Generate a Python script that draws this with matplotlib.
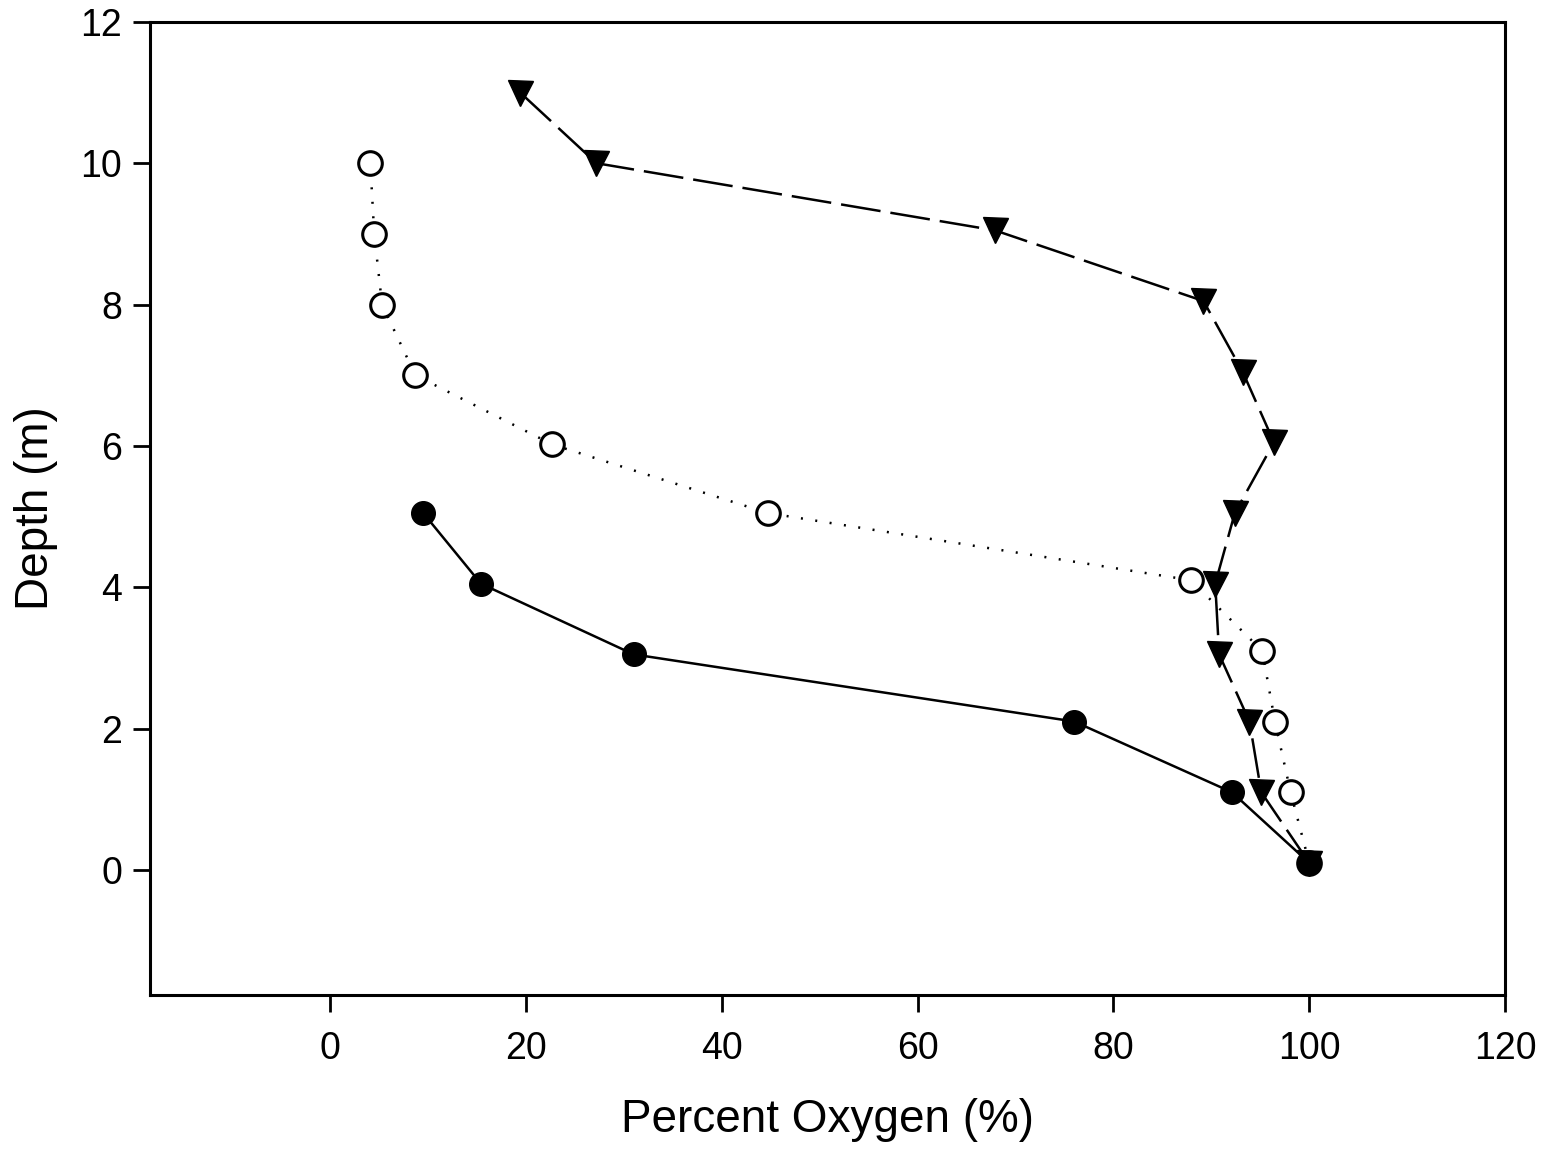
import matplotlib.pyplot as plt

plt.rcParams['font.family'] = ['Liberation Sans', 'DejaVu Sans']

# filled circles, solid line
solid_x = [100, 92.1, 76.0, 31.0, 15.4, 9.5]
solid_y = [0.1, 1.1, 2.1, 3.05, 4.05, 5.05]

# open circles, dotted line
open_x = [100, 98.1, 96.5, 95.2, 87.9, 44.7, 22.7, 8.7, 5.3, 4.5, 4.1]
open_y = [0.1, 1.1, 2.1, 3.1, 4.1, 5.05, 6.02, 7.0, 8.0, 9.0, 10.0]

# down triangles, dashed line
tri_x = [100, 95.1, 93.9, 90.8, 90.4, 92.4, 96.4, 93.2, 89.2, 67.9, 27.2, 19.4]
tri_y = [0.1, 1.1, 2.1, 3.05, 4.05, 5.05, 6.05, 7.05, 8.05, 9.05, 10.0, 11.0]

xticks = [0, 20, 40, 60, 80, 100, 120]
yticks = [0, 2, 4, 6, 8, 10, 12]

fig = plt.figure(figsize=(15.58, 11.51), dpi=100)
ax = fig.add_axes([0.0963, 0.1355, 0.8697, 0.8455])

ax.plot(open_x, open_y, color='black', linestyle=(0, (0.8, 5)), linewidth=1.8,
        marker='o', markersize=17, markerfacecolor='white', markeredgewidth=2.2)
ax.plot(tri_x, tri_y, color='black', linestyle=(0, (16, 4)), linewidth=1.8,
        marker='v', markersize=18, markerfacecolor='black')
ax.plot(solid_x, solid_y, color='black', linestyle='-', linewidth=1.8,
        marker='o', markersize=17, markerfacecolor='black')

ax.set_xlim(-18.4, 120)
ax.set_ylim(-1.77, 12)
ax.set_xticks(xticks)
ax.set_yticks(yticks)
ax.tick_params(axis='both', direction='out', length=12, width=2, labelsize=27)
ax.tick_params(axis='x', pad=14)
ax.tick_params(axis='y', pad=8)
for s in ax.spines.values():
    s.set_linewidth(2.2)

ax.set_xlabel('Percent Oxygen (%)', fontsize=33, labelpad=22)
ax.set_ylabel('Depth (m)', fontsize=33, labelpad=16)

fig.savefig('out.png', dpi=100)
